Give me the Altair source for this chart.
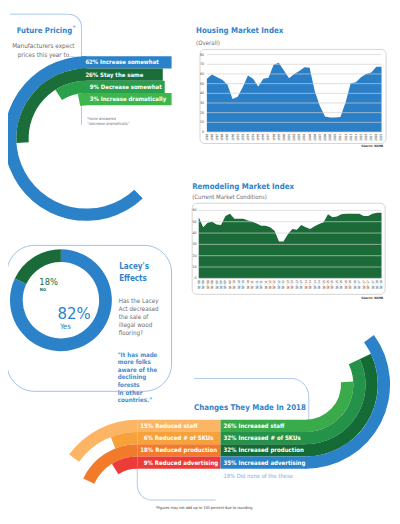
import math
import altair as alt
import pandas as pd

# ---------------- data ----------------
pricing_labels = ["62% Increase somewhat", "26% Stay the same", "9% Decrease somewhat", "3% Increase dramatically"]
pricing_values = [62, 26, 9, 3]

housing_years = [str(y) for y in range(1985, 2020)]
housing_values = [55, 59.5, 56.5, 54, 49, 34, 36.5, 46.5, 58.5, 55, 47, 55, 56, 69.5, 71.5, 63.5,
                  55.5, 60, 63, 67, 66.5, 42.5, 27, 16, 15, 15, 15.5, 30.5, 50.5, 51.5, 56.5, 60,
                  61.5, 67.5, 67.5]
housing_ticks = [0, 10, 20, 30, 40, 50, 60, 70, 80]

remodel_quarters = [f"Q{q} '{y % 100:02d}" for y in range(2008, 2019) for q in range(1, 5)][:42]
remodel_values = [54, 45, 49, 50, 47.5, 47, 55, 57, 52.5, 52.5, 52.5, 51, 50, 48.5, 46.5, 46.5,
                  45, 42, 32.5, 32.5, 39, 43.5, 43, 47, 45, 43.5, 46, 48, 49.5, 56.5, 54, 54.5,
                  56.5, 57, 57, 57, 57, 55, 55, 57, 58, 58]
remodel_ticks = [0, 10, 20, 30, 40, 50, 60]

lacey_labels = ["Yes", "NO"]
lacey_values = [82, 18]

reduced_labels = ["15% Reduced staff", "6% Reduced # of SKUs", "18% Reduced production", "9% Reduced advertising"]
reduced_values = [15, 6, 18, 9]
increased_labels = ["26% Increased staff", "32% Increased # of SKUs", "32% Increased production", "35% Increased advertising"]
increased_values = [26, 32, 32, 35]
none_label = "18% Did none of the these"

# ---------------- style ----------------
FONT = "Liberation Sans Narrow, DejaVu Sans Condensed, sans-serif"
BLUE = "#2b82c9"
TITLE = "#3283cb"
GRAY = "#6d6e71"
LINE = "#a9c9e9"
DKGREEN = "#1a6b39"
pricing_colors = ["#2b82c9", "#1b6e3a", "#29a049", "#3db64b"]
reduced_colors = ["#fcb564", "#f7a13b", "#f27a2b", "#ec3c3a"]
increased_colors = ["#3aab4a", "#25924a", "#146b36", "#2b82c9"]
RING = 12.5
W, H = 392, 508
OFF = 8
TS = 8.0  # title size


def P(v):
    return v - OFF


one = pd.DataFrame({"k": [0]})


def txt(s, x, y, size, color, weight="normal", align="left", lh=None, baseline="middle", font=FONT):
    df = pd.DataFrame({"t": [s]})
    mk = dict(font=font, fontSize=size, color=color, fontWeight=weight, align=align, baseline=baseline)
    if "\n" in s:
        mk.update(lineBreak="\n", lineHeight=lh or size * 1.1)
    return alt.Chart(df).mark_text(**mk).encode(x=alt.value(P(x)), y=alt.value(P(y)), text="t:N")


def hline(x1, x2, y, color=LINE, w=1):
    return alt.Chart(one).mark_rule(color=color, strokeWidth=w).encode(
        x=alt.value(P(x1)), x2=alt.value(P(x2)), y=alt.value(P(y)))


def vline(x, y1, y2, color=LINE, w=1):
    return alt.Chart(one).mark_rule(color=color, strokeWidth=w).encode(
        x=alt.value(P(x)), y=alt.value(P(y1)), y2=alt.value(P(y2)))


def corner(cx, cy, r, t0, t1, color=LINE):
    return alt.Chart(one).mark_arc(radius=r + 0.5, radius2=r - 0.5, theta=t0, theta2=t1, color=color).encode(
        x=alt.value(P(cx)), y=alt.value(P(cy)))


def box(x1, y1, x2, y2, stroke, radius, fill="white", fill_opacity=1.0):
    return alt.Chart(one).mark_rect(stroke=stroke, strokeWidth=1, cornerRadius=radius, fill=fill,
                                    fillOpacity=fill_opacity).encode(
        x=alt.value(P(x1)), x2=alt.value(P(x2)), y=alt.value(P(y1)), y2=alt.value(P(y2)))


def rings(df, cx, cy, outer_expr, t0_expr, t1_expr, colors, width=RING):
    return alt.Chart(df).transform_calculate(
        r0=outer_expr, r1=f"({outer_expr}) - {width}", t0=t0_expr, t1=t1_expr
    ).mark_arc().encode(
        x=alt.value(P(cx)), y=alt.value(P(cy)),
        theta=alt.Theta("t0:Q", scale=alt.Scale(domain=[0, 100], range=[0, 2 * math.pi]), stack=None),
        theta2=alt.Theta2("t1:Q"),
        radius=alt.Radius("r0:Q", scale=None),
        radius2=alt.Radius2("r1:Q"),
        color=alt.Color("label:N", scale=alt.Scale(domain=list(df["label"]), range=colors), legend=None),
    )


def bars(df, x0, x1_expr, ytop, tx_expr, colors, size):
    base = alt.Chart(df).transform_calculate(
        y0=f"{P(ytop)} + {RING} * datum.row", y1=f"{P(ytop)} + {RING} * (datum.row + 1)",
        x0=f"{P(x0)}", x1=x1_expr, tx=tx_expr, ty=f"{P(ytop)} + {RING} * (datum.row + 0.5)")
    rect = base.mark_rect().encode(
        x=alt.X("x0:Q", scale=None), x2=alt.X2("x1:Q"),
        y=alt.Y("y0:Q", scale=None), y2=alt.Y2("y1:Q"),
        color=alt.Color("label:N", scale=alt.Scale(domain=list(df["label"]), range=colors), legend=None))
    label = base.mark_text(align="left", baseline="middle", font=FONT, fontWeight="bold", fontSize=size,
                           color="white").encode(
        x=alt.X("tx:Q", scale=None), y=alt.Y("ty:Q", scale=None), text="label:N")
    return [rect, label]


def area_panel(labels, values, ticks, xr, ydom, yr, color, ylab_x, xlab_y):
    df = pd.DataFrame({"cat": labels, "value": values})
    xs = alt.Scale(type="point", range=[P(xr[0]), P(xr[1])], padding=0)
    ys = alt.Scale(domain=ydom, range=[P(yr[0]), P(yr[1])], nice=False, zero=False)
    area = alt.Chart(df).mark_area(color=color, opacity=1).encode(
        x=alt.X("cat:O", scale=xs, axis=None, sort=None),
        y=alt.Y("value:Q", scale=ys, axis=None))
    tdf = pd.DataFrame({"tick": ticks, "a": [labels[0]] * len(ticks), "b": [labels[-1]] * len(ticks)})
    grid = alt.Chart(tdf).mark_rule(color="#cfcfcf", strokeWidth=0.9, opacity=0.75).encode(
        y=alt.Y("tick:Q", scale=ys, axis=None),
        x=alt.X("a:O", scale=xs, axis=None, sort=None), x2=alt.X2("b:O"))
    ylab = alt.Chart(tdf).mark_text(align="right", baseline="middle", fontSize=3.6, font=FONT,
                                    color="#444").encode(
        y=alt.Y("tick:Q", scale=ys, axis=None), x=alt.value(P(ylab_x)), text="tick:Q")
    xlab = alt.Chart(df).mark_text(angle=270, align="right", baseline="middle", fontSize=3.2, font=FONT,
                                   color="#222").encode(
        x=alt.X("cat:O", scale=xs, axis=None, sort=None), y=alt.value(P(xlab_y)), text="cat:N")
    return alt.layer(area, grid, ylab, xlab)


layers = []

# ---------- Future Pricing ----------
pdf = pd.DataFrame({"label": pricing_labels, "value": pricing_values, "row": list(range(4))})
layers += [hline(10, 70, 9), corner(70, 22, 13, 0, math.pi / 2), vline(83, 22, 122)]
layers.append(rings(pdf, 88, 136, f"84 - {RING} * datum.row", "100 - datum.value", "100", pricing_colors))
layers += bars(pdf, 83, f"datum.row == 1 ? {P(166)} : (datum.row == 2 ? {P(168)} : {P(175)})", 52,
               f"datum.value >= 10 ? {P(87)} : {P(91.5)}", pricing_colors, 6.1)
layers.append(txt("Future Pricing", 73.5, 26, 7.9, TITLE, "bold", "right"))
layers.append(txt("*", 75.5, 22, 5, TITLE, "bold", "center"))
layers.append(txt("Manufacturers expect\nprices this year to...", 76, 41.5, 6.5, GRAY, align="right", lh=9))
layers.append(txt("*none answered\n\"decrease dramatically\"", 89, 116, 4.0, GRAY, lh=5.5))

# ---------- Housing Market Index ----------
layers.append(box(204, 45, 394, 141, "#d4d4d4", 5))
layers.append(area_panel(housing_years, housing_values, housing_ticks, (211, 389.3), [0, 80],
                         (129.3, 50.3), "#2b7fc6", 208, 131))
layers.append(txt("Housing Market Index", 200, 26, TS, TITLE, "bold"))
layers.append(txt("(Overall)", 200, 38, 6.2, GRAY))
layers.append(txt("Source: NAHB", 391, 143.5, 3.2, "#333", "bold", "right"))

# ---------- Remodeling Market Index ----------
layers.append(box(196, 202, 393, 295, "#d4d4d4", 5))
layers.append(area_panel(remodel_quarters, remodel_values, remodel_ticks, (202.7, 389.3), [0, 60],
                         (278.7, 209.3), "#1b6b39", 200.5, 280.5))
layers.append(txt("Remodeling Market Index", 196, 185, TS, TITLE, "bold"))
layers.append(txt("(Current Market Conditions)", 196, 196, 6.1, GRAY))
layers.append(txt("Source: NAHB", 391, 298.5, 3.2, "#333", "bold", "right"))

# ---------- Lacey's Effects ----------
ldf = pd.DataFrame({"label": lacey_labels, "value": lacey_values})
layers.append(box(7, 245, 175, 394, "#9cc0e6", 28, fill_opacity=0))
lacey_ring = alt.Chart(ldf).transform_window(cum="sum(value)").transform_calculate(
    t0="datum.cum - datum.value", t1="datum.cum"
).mark_arc(radius=52, radius2=39).encode(
    x=alt.value(P(62)), y=alt.value(P(301)),
    theta=alt.Theta("t0:Q", scale=alt.Scale(domain=[0, 100], range=[0, 2 * math.pi]), stack=None),
    theta2=alt.Theta2("t1:Q"),
    color=alt.Color("label:N", scale=alt.Scale(domain=lacey_labels, range=[BLUE, DKGREEN]), legend=None))
layers.append(lacey_ring)
layers.append(txt(f"{lacey_values[1]}%", 40, 282.5, 9.5, DKGREEN))
layers.append(txt(lacey_labels[1], 40.5, 290.5, 4.2, DKGREEN, "bold"))
layers.append(txt(f"{lacey_values[0]}%", 58.5, 315, 17, BLUE))
layers.append(txt(lacey_labels[0], 61, 328.5, 7.8, BLUE))
layers.append(txt("Lacey's\nEffects", 121.5, 267, 8.2, TITLE, "bold", lh=12))
layers.append(txt("Has the Lacey\nAct decreased\nthe sale of\nillegal wood\nflooring?", 121, 301.5, 6.4,
                  GRAY, lh=8.25))
layers.append(txt("\"It has made\n more folks\n aware of the\n declining\n forests\n in other\n countries.\"",
                  120, 356.5, 6.3, "#3f8bd0", "bold", lh=7.8))

# ---------- Changes They Made In 2018 ----------
layers += [hline(198, 297, 381), corner(297, 399, 18, 0, math.pi / 2), vline(315, 399, 425),
           vline(140, 470, 490), corner(155, 490, 15, math.pi, 1.5 * math.pi), hline(155, 220, 505)]
rdf = pd.DataFrame({"label": reduced_labels, "value": reduced_values, "row": list(range(4))})
idf = pd.DataFrame({"label": increased_labels, "value": increased_values, "row": list(range(4))})
layers.append(rings(rdf, 140, 509, f"86 - {RING} * datum.row", "100 - datum.value", "100", reduced_colors))
layers.append(rings(idf, 312, 387, f"48.5 + {RING} * datum.row", "50 - datum.value", "50", increased_colors))
layers += bars(rdf, 140, f"{P(225)}", 423, f"datum.value >= 10 ? {P(143)} : {P(146.5)}", reduced_colors, 6.2)
layers += bars(idf, 225, f"{P(313)}", 423, f"{P(228)}", increased_colors, 6.2)
layers.append(txt("Changes They Made In 2018", 198, 411, TS, TITLE, "bold"))
layers.append(txt(none_label, 228, 480, 5.9, "#7fb0de"))
layers.append(txt("*Figures may not add up to 100 percent due to rounding", 208, 513, 3.9, "#444",
                  align="center"))

chart = alt.layer(*layers).resolve_scale(
    x="independent", y="independent", color="independent", theta="independent", radius="independent"
).properties(width=W, height=H, padding=0, autosize="none", background="white").configure_view(stroke=None)

chart.save("out.html", embed_options={"renderer": "svg", "actions": False})
